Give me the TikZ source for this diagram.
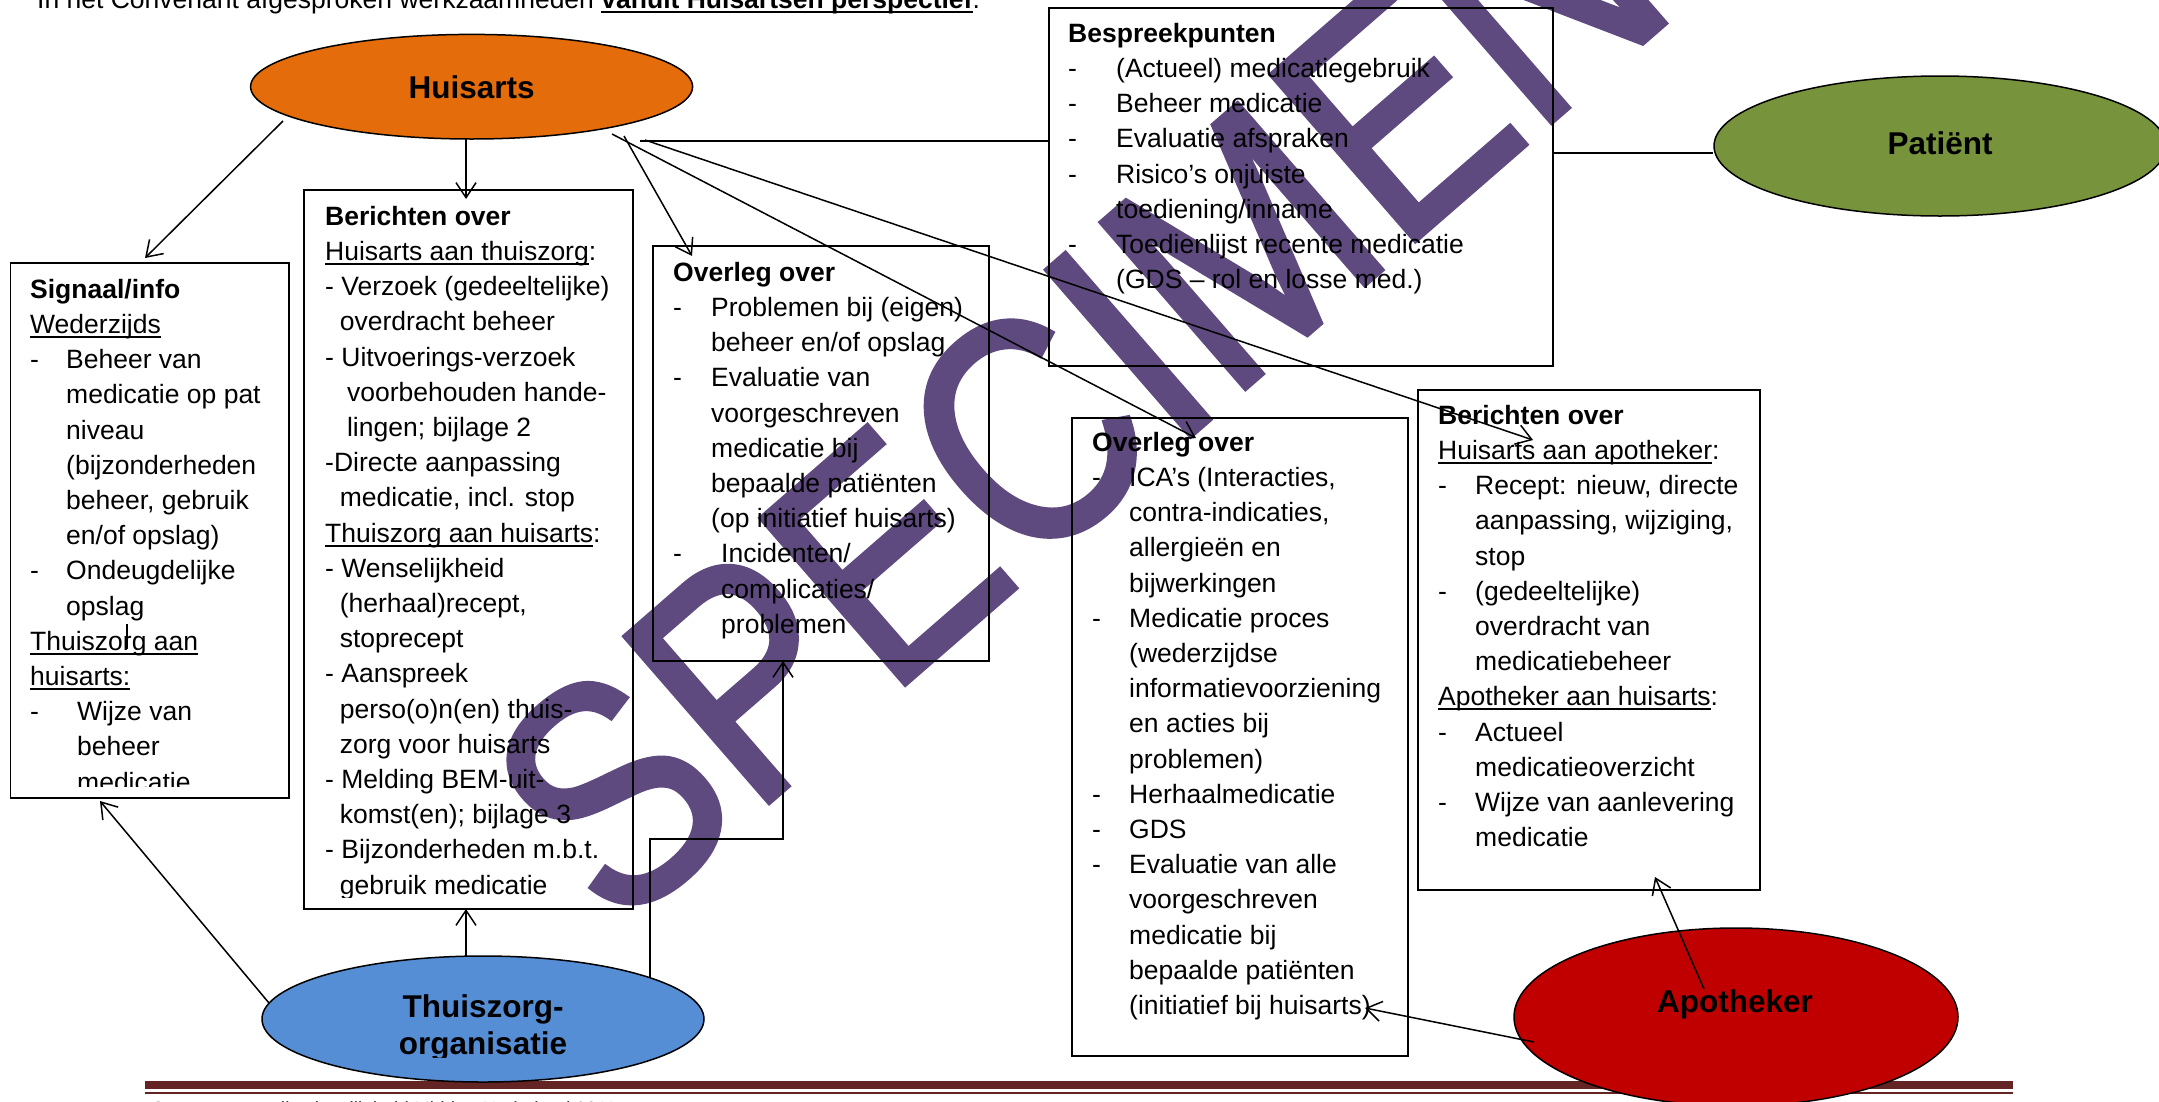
\documentclass[tikz,border=0pt]{standalone}
\usepackage{fontspec}
\setmainfont{Liberation Sans}
\newfontfamily\wmfont[FakeStretch=0.845,FakeBold=1.5]{Liberation Sans}
\usetikzlibrary{arrows.meta,shapes.geometric}
\definecolor{huiscol}{RGB}{228,108,10}
\definecolor{patcol}{RGB}{119,147,60}
\definecolor{thzcol}{RGB}{85,142,213}
\definecolor{apocol}{RGB}{192,0,0}
\definecolor{barcol}{RGB}{99,36,35}
\definecolor{wmcol}{RGB}{94,74,126}
\newcommand\myul[1]{\setbox0\hbox{#1}\rlap{\rule[-4.5pt]{\wd0}{1.9pt}}\box0}
\newcommand\dl[2]{\makebox[#1][l]{-}#2}
\newcommand\ind[1]{\hspace*{#1}}
\begin{document}
\begin{tikzpicture}[x=1pt,y=-1pt,
 boxst/.style={draw, line width=1.5pt, inner sep=0pt, anchor=north west},
 ell/.style={ellipse, draw, line width=1.5pt, inner sep=0pt},
 txt/.style={font=\fontsize{26.5}{35.2}\selectfont, align=left, inner sep=0pt, anchor=north west},
 lbl/.style={font=\fontsize{31.5}{37}\selectfont\bfseries, inner sep=0pt, anchor=base},
 con/.style={line width=1.5pt},
 arr/.style={line width=1.5pt, -{Straight Barb[length=15pt,width=20pt]}},
 wm/.style={font=\wmfont\fontsize{320}{320}\selectfont, text=wmcol, inner sep=0pt}
]
\useasboundingbox (0,0) rectangle (2159,1101);
\clip (0,0) rectangle (2159,1101);
\fill[white] (0,0) rectangle (2159,1101);

% watermark
\node[wm, rotate=41] (wmk) at (1077,389) {SPECIMEN};

% top line
\node[font=\fontsize{26.5}{30}\selectfont, inner sep=0pt, anchor=base west] (title) at (37,8)
 {In het Convenant afgesproken werkzaamheden \myul{\textbf{vanuit Huisartsen perspectief}}.};

% footer
\fill[barcol] (145,1081) rectangle (2013,1089);
\fill[barcol] (145,1091.5) rectangle (2013,1093.5);
\node[font=\fontsize{19}{22}\selectfont, inner sep=0pt, anchor=base west] (foot) at (151,1115)
 {Convenant medicatieveiligheid Midden-Nederland 2011};

% boxes
\node[boxst, minimum width=278.4pt, minimum height=535pt] (sig) at (9.6,262) {};
\node[boxst, minimum width=329pt, minimum height=719pt] (ber1) at (303,189) {};
\node[boxst, minimum width=336pt, minimum height=415pt] (ovl1) at (652,245) {};
\node[boxst, minimum width=504pt, minimum height=358pt] (besp) at (1048,7) {};
\node[boxst, minimum width=336pt, minimum height=638pt] (ovl2) at (1071,417) {};
\node[boxst, minimum width=342pt, minimum height=500pt] (ber2) at (1417,389) {};

% ellipses
\node[ell, fill=huiscol, minimum width=442pt, minimum height=104.6pt] (huis) at (471.6,86.7) {};
\node[ell, fill=patcol, minimum width=452pt, minimum height=140pt] (pat) at (1940,146) {};
\node[ell, fill=thzcol, minimum width=442pt, minimum height=126pt] (thz) at (483,1019) {};
\node[ell, fill=apocol, minimum width=444pt, minimum height=178pt] (apo) at (1736,1017) {};

\node[lbl] (huisl) at (471.6,98) {Huisarts};
\node[lbl] (patl) at (1940,154) {Patiënt};
\node[lbl] (apol) at (1735,1012) {Apotheker};
\begin{scope}
\clip (262,950) rectangle (704,1057);
\node[lbl] (thzl1) at (483,1017) {Thuiszorg-};
\node[lbl] (thzl2) at (483,1054) {organisatie};
\end{scope}

% connectors
\coordinate (h1) at (283,121);   \coordinate (s1) at (145,258);
\coordinate (h2) at (466,139);   \coordinate (b1) at (466,199);
\coordinate (h3) at (624,136);   \coordinate (o1) at (692,256);
\coordinate (h4) at (612,134);   \coordinate (o2) at (1196,438);
\coordinate (h5) at (645,140);   \coordinate (b2) at (1533,440);
\coordinate (h6) at (640,141);
\coordinate (p1) at (1552,153);
\coordinate (t1) at (269,1003);  \coordinate (s2) at (100,801);
\coordinate (t2) at (466,956);   \coordinate (b3) at (466,909);
\coordinate (t3) at (650,977);   \coordinate (o3) at (783,661);
\coordinate (a1) at (1704,989);  \coordinate (b4) at (1655,877);
\coordinate (a2) at (1534,1042); \coordinate (o4) at (1365,1008);

\draw[arr] (h1) -- (s1);
\draw[arr] (h2) -- (b1);
\draw[arr] (h3) -- (o1);
\draw[arr] (h4) -- (o2);
\draw[arr] (h5) -- (b2);
\draw[con] (h6) -- (besp.west |- h6);
\draw[con] (p1) -- (pat.west |- p1);
\draw[arr] (t1) -- (s2);
\draw[arr] (t2) -- (b3);
\draw[arr] (t3) -- (650,839) -- (783,839) -- (o3);
\draw[arr] (a1) -- (b4);
\draw[arr] (a2) -- (o4);

% small cursor mark
\coordinate (cu1) at (127,624); \coordinate (cu2) at (127,649);
\draw[line width=1.3pt] (cu1) -- (cu2);

% box texts
\begin{scope}
\clip (9.6,262) rectangle (288,786);
\node[txt] (sigt) at (30,274) {\rule{0pt}{24pt}\textbf{Signaal/info}\\
\myul{Wederzijds}\\
\dl{36pt}{Beheer van}\\
\ind{36pt}medicatie op pat\\
\ind{36pt}niveau\\
\ind{36pt}(bijzonderheden\\
\ind{36pt}beheer, gebruik\\
\ind{36pt}en/of opslag)\\
\dl{36pt}{Ondeugdelijke}\\
\ind{36pt}opslag\\
\myul{Thuiszorg aan}\\
\myul{huisarts:}\\
\dl{47pt}{Wijze van}\\
\ind{47pt}beheer\\
\ind{47pt}medicatie};
\end{scope}

\begin{scope}
\clip (303,189) rectangle (632,897);
\node[txt] (ber1t) at (325,201) {\rule{0pt}{24pt}\textbf{Berichten over}\\
\myul{Huisarts aan thuiszorg}:\\
- Verzoek (gedeeltelijke)\\
\ind{14.6pt}overdracht beheer\\
- Uitvoerings-verzoek\\
\ind{21.9pt}voorbehouden hande-\\
\ind{21.9pt}lingen; bijlage 2\\
-Directe aanpassing\\
\ind{14.6pt}medicatie, incl. stop\\
\myul{Thuiszorg aan huisarts}:\\
- Wenselijkheid\\
\ind{14.6pt}(herhaal)recept,\\
\ind{14.6pt}stoprecept\\
- Aanspreek\\
\ind{14.6pt}perso(o)n(en) thuis-\\
\ind{14.6pt}zorg voor huisarts\\
- Melding BEM-uit-\\
\ind{14.6pt}komst(en); bijlage 3\\
- Bijzonderheden m.b.t.\\
\ind{14.6pt}gebruik medicatie};
\end{scope}

\node[txt] (ovl1t) at (673,257) {\rule{0pt}{24pt}\textbf{Overleg over}\\
\dl{38pt}{Problemen bij (eigen)}\\
\ind{38pt}beheer en/of opslag\\
\dl{38pt}{Evaluatie van}\\
\ind{38pt}voorgeschreven\\
\ind{38pt}medicatie bij\\
\ind{38pt}bepaalde patiënten\\
\ind{38pt}(op initiatief huisarts)\\
\dl{48pt}{Incidenten/}\\
\ind{48pt}complicaties/\\
\ind{48pt}problemen};

\node[txt] (bespt) at (1068,18) {\rule{0pt}{24pt}\textbf{Bespreekpunten}\\
\dl{48pt}{(Actueel) medicatiegebruik}\\
\dl{48pt}{Beheer medicatie}\\
\dl{48pt}{Evaluatie afspraken}\\
\dl{48pt}{Risico’s onjuiste}\\
\ind{48pt}toediening/inname\\
\dl{48pt}{Toedienlijst recente medicatie}\\
\ind{48pt}(GDS – rol en losse med.)};

\node[txt] (ovl2t) at (1092,427) {\rule{0pt}{24pt}\textbf{Overleg over}\\
\dl{37pt}{ICA’s (Interacties,}\\
\ind{37pt}contra-indicaties,\\
\ind{37pt}allergieën en\\
\ind{37pt}bijwerkingen\\
\dl{37pt}{Medicatie proces}\\
\ind{37pt}(wederzijdse\\
\ind{37pt}informatievoorziening\\
\ind{37pt}en acties bij\\
\ind{37pt}problemen)\\
\dl{37pt}{Herhaalmedicatie}\\
\dl{37pt}{GDS}\\
\dl{37pt}{Evaluatie van alle}\\
\ind{37pt}voorgeschreven\\
\ind{37pt}medicatie bij\\
\ind{37pt}bepaalde patiënten\\
\ind{37pt}(initiatief bij huisarts)};

\node[txt] (ber2t) at (1438,400) {\rule{0pt}{24pt}\textbf{Berichten over}\\
\myul{Huisarts aan apotheker}:\\
\dl{37pt}{Recept: nieuw, directe}\\
\ind{37pt}aanpassing, wijziging,\\
\ind{37pt}stop\\
\dl{37pt}{(gedeeltelijke)}\\
\ind{37pt}overdracht van\\
\ind{37pt}medicatiebeheer\\
\myul{Apotheker aan huisarts}:\\
\dl{37pt}{Actueel}\\
\ind{37pt}medicatieoverzicht\\
\dl{37pt}{Wijze van aanlevering}\\
\ind{37pt}medicatie};
\end{tikzpicture}
\end{document}
